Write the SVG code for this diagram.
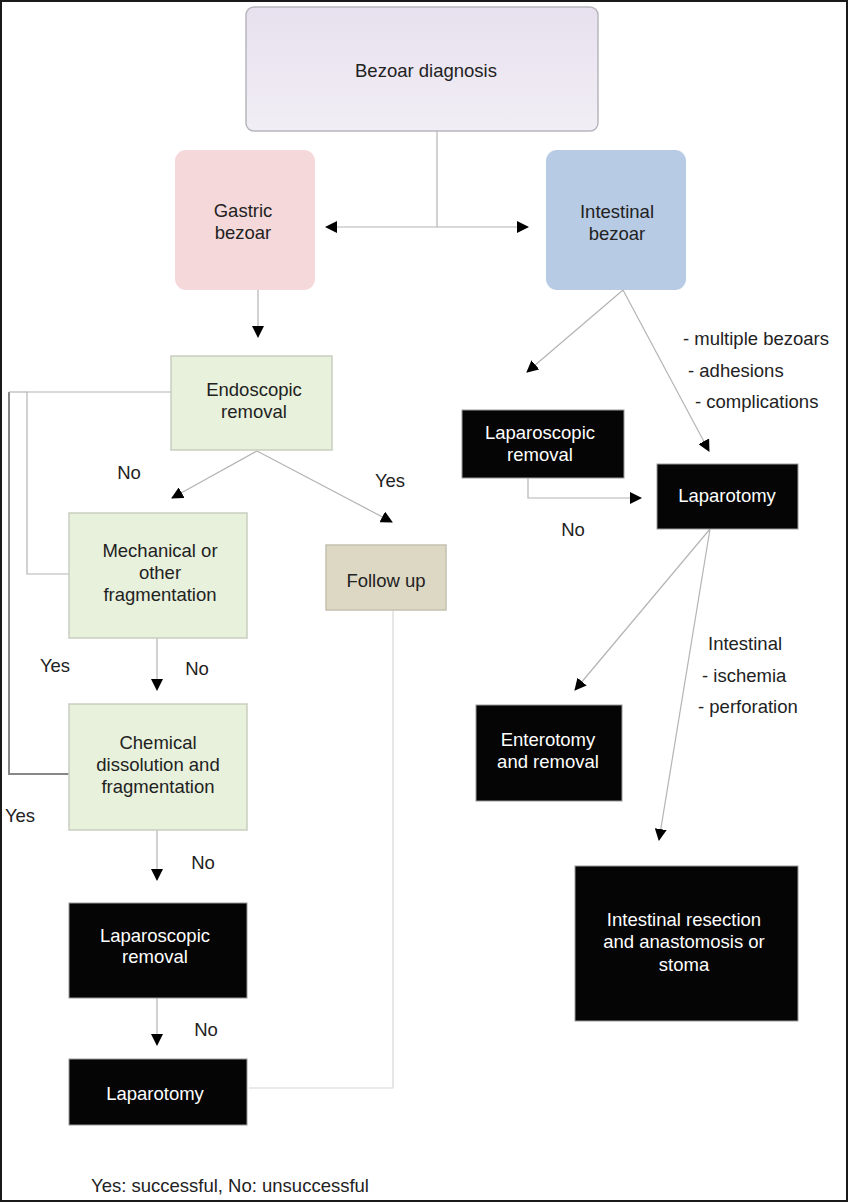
<svg xmlns="http://www.w3.org/2000/svg" width="848" height="1202" viewBox="0 0 848 1202">
<defs>
<linearGradient id="gDiag" x1="0" y1="0" x2="0" y2="1">
<stop offset="0" stop-color="#e7e0ee"/>
<stop offset="1" stop-color="#f1eef5"/>
</linearGradient>
<marker id="ah" markerUnits="userSpaceOnUse" markerWidth="12" markerHeight="12" refX="11" refY="6" orient="auto" viewBox="0 0 12 12">
<path d="M0,0 L12,6 L0,12 z" fill="#000"/>
</marker>
</defs>
<style>
.t{font-family:"Liberation Sans",Arial,sans-serif;font-size:18.5px;fill:#222;}
.c{text-anchor:middle;}
.w{fill:#fff;}
.ln{fill:none;stroke:#b4b4b4;stroke-width:1.2;}
.lnd{fill:none;stroke:#888;stroke-width:2;}
.green{fill:#e8f1dc;stroke:#c9cec0;stroke-width:1.5;}
.blk{fill:#050505;stroke:#9a9a9a;stroke-width:1;}
</style>
<rect x="1" y="1" width="846" height="1200" fill="#fff" stroke="#1a1a1a" stroke-width="2"/>

<g id="connectors">
<polyline class="ln" points="437,131 437,227"/>
<line class="ln" x1="437" y1="227" x2="326" y2="227" marker-end="url(#ah)"/>
<line class="ln" x1="437" y1="227" x2="528" y2="227" marker-end="url(#ah)"/>
<line class="ln" x1="258" y1="290" x2="258" y2="337" marker-end="url(#ah)"/>
<line class="ln" x1="257" y1="451" x2="172" y2="498" marker-end="url(#ah)"/>
<line class="ln" x1="257" y1="451" x2="392" y2="522" marker-end="url(#ah)"/>
<polyline class="ln" points="171,392 27,392 27,574 69,574"/>
<polyline class="lnd" points="9,392 9,774 69,774"/>
<line class="ln" x1="9" y1="392" x2="27" y2="392"/>
<line class="ln" x1="157" y1="638" x2="157" y2="690" marker-end="url(#ah)"/>
<line class="ln" x1="157" y1="830" x2="157" y2="880" marker-end="url(#ah)"/>
<line class="ln" x1="157" y1="998" x2="157" y2="1045" marker-end="url(#ah)"/>
<polyline class="ln" points="393,610 393,1088 249,1088" style="stroke:#d8d8d8"/>
<line class="ln" x1="623" y1="290" x2="527" y2="372" marker-end="url(#ah)"/>
<line class="ln" x1="623" y1="290" x2="709" y2="451" marker-end="url(#ah)"/>
<polyline class="ln" points="528,478 528,498 641,498" marker-end="url(#ah)"/>
<line class="ln" x1="710" y1="529" x2="575" y2="690" marker-end="url(#ah)"/>
<line class="ln" x1="710" y1="529" x2="659" y2="840" marker-end="url(#ah)"/>
</g>

<g id="node-diagnosis">
<rect x="246" y="7" width="352" height="124" rx="8" fill="url(#gDiag)" stroke="#b8b6bc" stroke-width="1.5"/>
<text class="t c" x="426" y="77">Bezoar diagnosis</text>
</g>

<g id="node-gastric">
<rect x="175" y="150" width="140" height="140" rx="11" fill="#f5d9da"/>
<text class="t c" x="243" y="217">Gastric</text>
<text class="t c" x="243" y="239">bezoar</text>
</g>

<g id="node-intestinal">
<rect x="546" y="150" width="140" height="140" rx="11" fill="#b8cbe4"/>
<text class="t c" x="617" y="218">Intestinal</text>
<text class="t c" x="617" y="240">bezoar</text>
</g>

<g id="node-endoscopic">
<rect class="green" x="171" y="356" width="161" height="94"/>
<text class="t c" x="254" y="396">Endoscopic</text>
<text class="t c" x="254" y="418">removal</text>
</g>

<g id="node-mechanical">
<rect class="green" x="69" y="513" width="178" height="125"/>
<text class="t c" x="160" y="557">Mechanical or</text>
<text class="t c" x="160" y="579">other</text>
<text class="t c" x="160" y="601">fragmentation</text>
</g>

<g id="node-followup">
<rect x="326" y="545" width="120" height="65" fill="#ddd8c3" stroke="#c4c0b0" stroke-width="1.5"/>
<text class="t c" x="386" y="587">Follow up</text>
</g>

<g id="node-chemical">
<rect class="green" x="69" y="704" width="178" height="126"/>
<text class="t c" x="158" y="749">Chemical</text>
<text class="t c" x="158" y="771">dissolution and</text>
<text class="t c" x="158" y="793">fragmentation</text>
</g>

<g id="node-laparoscopic-left">
<rect class="blk" x="69" y="903" width="178" height="95"/>
<text class="t c w" x="155" y="942">Laparoscopic</text>
<text class="t c w" x="155" y="963">removal</text>
</g>

<g id="node-laparotomy-left">
<rect class="blk" x="69" y="1059" width="178" height="66"/>
<text class="t c w" x="155" y="1100">Laparotomy</text>
</g>

<g id="node-laparoscopic-right">
<rect class="blk" x="462" y="410" width="162" height="68"/>
<text class="t c w" x="540" y="439">Laparoscopic</text>
<text class="t c w" x="540" y="461">removal</text>
</g>

<g id="node-laparotomy-right">
<rect class="blk" x="657" y="464" width="141" height="65"/>
<text class="t c w" x="727" y="502">Laparotomy</text>
</g>

<g id="node-enterotomy">
<rect class="blk" x="476" y="705" width="146" height="96"/>
<text class="t c w" x="548" y="746">Enterotomy</text>
<text class="t c w" x="548" y="768">and removal</text>
</g>

<g id="node-resection">
<rect class="blk" x="575" y="866" width="223" height="155"/>
<text class="t c w" x="684" y="926">Intestinal resection</text>
<text class="t c w" x="684" y="948">and anastomosis or</text>
<text class="t c w" x="684" y="971">stoma</text>
</g>

<g id="labels">
<text class="t c" x="129" y="479">No</text>
<text class="t c" x="390" y="487">Yes</text>
<text class="t c" x="55" y="672">Yes</text>
<text class="t c" x="197" y="675">No</text>
<text class="t c" x="20" y="822">Yes</text>
<text class="t c" x="203" y="869">No</text>
<text class="t c" x="206" y="1036">No</text>
<text class="t c" x="573" y="536">No</text>
<text class="t" x="683" y="345">- multiple bezoars</text>
<text class="t" x="688" y="377">- adhesions</text>
<text class="t" x="695" y="408">- complications</text>
<text class="t" x="708" y="650">Intestinal</text>
<text class="t" x="702" y="682">- ischemia</text>
<text class="t" x="698" y="713">- perforation</text>
<text class="t c" x="230" y="1192">Yes: successful, No: unsuccessful</text>
</g>
</svg>
